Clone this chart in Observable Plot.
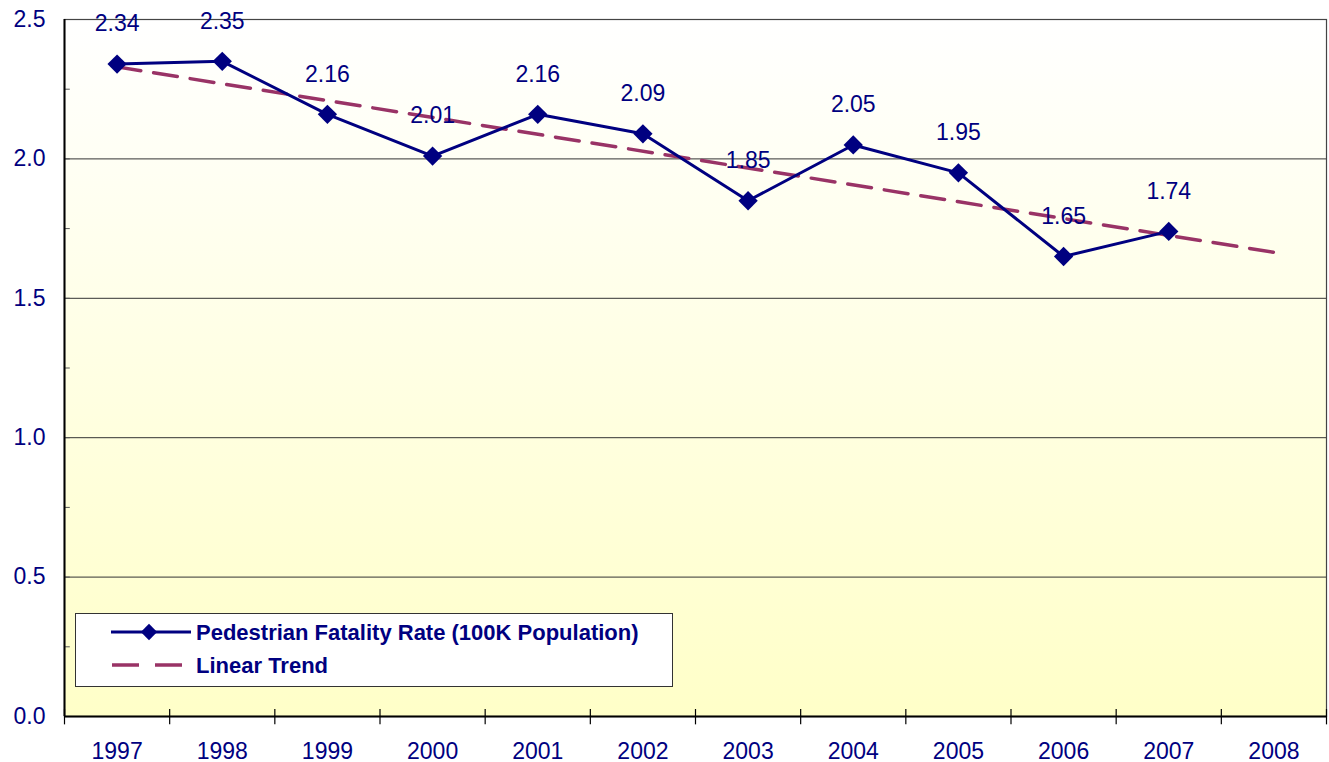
<!DOCTYPE html>
<html>
<head>
<meta charset="utf-8">
<script src="https://cdn.jsdelivr.net/npm/d3@7"></script>
<script src="https://cdn.jsdelivr.net/npm/@observablehq/plot@0.6"></script>
<style>
  body { margin: 0; background: #ffffff; }
  #wrap { position: relative; width: 1329px; height: 762px; font-family: "Liberation Sans", Arial, sans-serif; }
  #legend { position: absolute; left: 75px; top: 613px; width: 596px; height: 72px; background: #ffffff; border: 1px solid #333333; }
</style>
</head>
<body>
<div id="wrap">
  <div id="chart"></div>
  <div id="legend"></div>
</div>
<script>
// ---- data ----
const years = [1997, 1998, 1999, 2000, 2001, 2002, 2003, 2004, 2005, 2006, 2007, 2008];
const rateYears = [1997, 1998, 1999, 2000, 2001, 2002, 2003, 2004, 2005, 2006, 2007];
const rates = [2.34, 2.35, 2.16, 2.01, 2.16, 2.09, 1.85, 2.05, 1.95, 1.65, 1.74];
const trendYears = [1997, 2008];
const trendValues = [2.33, 1.665];
const yTickLabels = [0, 0.5, 1.0, 1.5, 2.0, 2.5];
const yGridValues = [0.5, 1.0, 1.5, 2.0];
const yMinorTicks = [0.25, 0.5, 0.75, 1.0, 1.25, 1.5, 1.75, 2.0, 2.25];
const seriesName = "Pedestrian Fatality Rate (100K Population)";
const trendName = "Linear Trend";

const navy = "#000080";
const plum = "#993366";

const rateData = rateYears.map((yr, i) => ({year: yr, value: rates[i]}));
const trendData = trendYears.map((yr, i) => ({year: yr, value: trendValues[i]}));
const boundaries = years.map(y => y - 0.5).concat([years[years.length - 1] + 0.5]);
const xDomain = [boundaries[0], boundaries[boundaries.length - 1]];

const gradientDefs = () => {
  const defs = d3.create("svg:defs");
  const g = defs.append("linearGradient").attr("id", "bg").attr("x1", 0).attr("y1", 0).attr("x2", 0).attr("y2", 1);
  g.append("stop").attr("offset", "0%").attr("stop-color", "#ffffff");
  g.append("stop").attr("offset", "100%").attr("stop-color", "#ffffc8");
  return defs.node();
};

const chart = Plot.plot({
  width: 1329,
  height: 762,
  marginLeft: 64,
  marginRight: 3,
  marginTop: 19,
  marginBottom: 46,
  style: {fontFamily: "'Liberation Sans', Arial, sans-serif", fontSize: "23px", color: navy, background: "transparent", overflow: "visible"},
  x: {type: "linear", domain: xDomain},
  y: {domain: [0, 2.5]},
  marks: [
    gradientDefs,
    Plot.frame({fill: "url(#bg)", stroke: null}),
    Plot.gridY(yGridValues, {stroke: "#333333", strokeOpacity: 1, strokeWidth: 1}),
    Plot.frame({stroke: "#444444", strokeWidth: 1.2}),
    Plot.ruleY(yMinorTicks, {x1: xDomain[0], x2: xDomain[0] + 0.055, stroke: "#555555"}),
    Plot.ruleX(boundaries, {y1: -0.03, y2: 0.025, stroke: "#000000", strokeWidth: 1.2}),
    Plot.ruleX([xDomain[0]], {stroke: "#000000", strokeWidth: 2}),
    Plot.ruleY([0], {stroke: "#000000", strokeWidth: 2}),
    Plot.axisY({ticks: yTickLabels, tickSize: 0, tickPadding: 19, tickFormat: d3.format(".1f"), label: null, fill: navy, fontSize: 23}),
    Plot.axisX({ticks: years, tickSize: 0, tickPadding: 26, tickFormat: d => String(d), label: null, fill: navy, fontSize: 23}),
    Plot.line(trendData, {x: "year", y: "value", stroke: plum, strokeWidth: 3.5, strokeDasharray: "24,13"}),
    Plot.line(rateData, {x: "year", y: "value", stroke: navy, strokeWidth: 3}),
    Plot.dot(rateData, {x: "year", y: "value", symbol: "diamond2", r: 8.7, fill: navy, stroke: null}),
    Plot.text(rateData, {x: "year", y: "value", text: d => d.value.toFixed(2), dy: -40, fill: navy, fontSize: 23})
  ]
});
document.getElementById("chart").appendChild(chart);

// ---- legend ----
const leg = d3.select("#legend").append("svg").attr("width", 596).attr("height", 72)
  .style("font-family", "'Liberation Sans', Arial, sans-serif");
leg.append("line").attr("x1", 35).attr("x2", 115).attr("y1", 18).attr("y2", 18).attr("stroke", navy).attr("stroke-width", 3);
leg.append("path").attr("d", d3.symbol(d3.symbolDiamond2, 170)()).attr("transform", "translate(73,18)").attr("fill", navy);
leg.append("text").attr("x", 120).attr("y", 18).attr("dy", "0.36em").attr("font-weight", "bold").attr("font-size", 22).attr("fill", navy).text(seriesName);
leg.append("line").attr("x1", 36).attr("x2", 106).attr("y1", 51).attr("y2", 51).attr("stroke", plum).attr("stroke-width", 3.5).attr("stroke-dasharray", "27,16");
leg.append("text").attr("x", 120).attr("y", 51).attr("dy", "0.36em").attr("font-weight", "bold").attr("font-size", 22).attr("fill", navy).text(trendName);
</script>
</body>
</html>
